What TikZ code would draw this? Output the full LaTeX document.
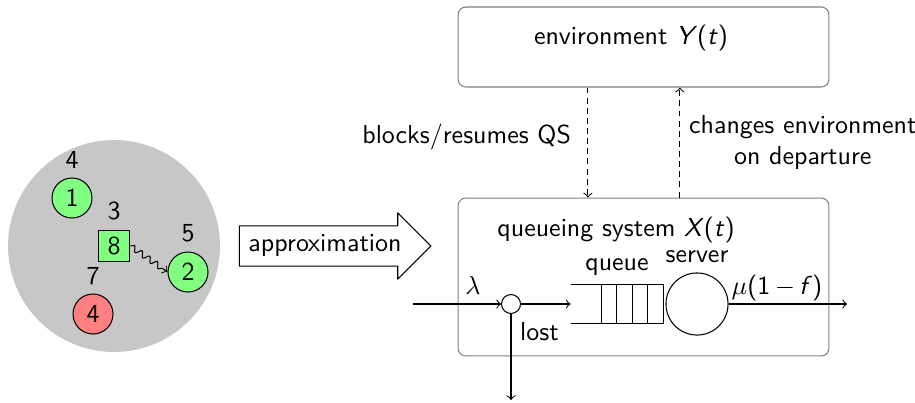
\documentclass[tikz,border=0pt]{standalone}
\usetikzlibrary{shapes.arrows,decorations.pathmorphing}
\renewcommand{\familydefault}{\sfdefault}
\newcommand{\ivar}[1]{\textsl{#1}}
\begin{document}
\begin{tikzpicture}[x=0.385pt,y=-0.385pt,>=to,line join=round,
	job/.style={circle,draw,minimum size=15.4pt,inner sep=0pt},
	sysbox/.style={draw=gray,rounded corners=3pt,minimum width=142.8pt},
	signal/.style={->,dash pattern=on 2.3pt off 1.6pt}]
	\useasboundingbox (0,0) rectangle (915,402);
	% left: pool of jobs
	\node[circle,fill=black!22,minimum size=81.6pt] (pool) at (114,246) {};
	\node[job,fill=green!50,label={above:4}] (j1) at (72,198) {1};
	\node[job,fill=green!50,label={above:5}] (j2) at (188,272) {2};
	\node[job,fill=red!50,label={above:7}] (j4) at (93,314) {4};
	\node[draw,fill=green!50,minimum size=12.3pt,inner sep=0pt,label={above:3}] (srv) at (114,246) {8};
	\draw[->,decorate,decoration={snake,amplitude=1.1pt,segment length=3.6pt,post length=2pt}]
		(srv.east) -- (j2.west);
	% approximation
	\node[single arrow,draw,single arrow head extend=5pt] (approx) at (325,246) {approximation};
	% environment and queueing system
	\node[sysbox,minimum height=30.8pt] (env) at (643.5,47) {};
	\node (envlabel) at (631,38) {environment \ivar{Y}(\ivar{t})};
	\node[sysbox,minimum height=60.8pt] (qs) at (643.5,277) {};
	\node (qslabel) at (616,230) {queueing system \ivar{X}(\ivar{t})};
	\draw[signal] ([xshift=-21.4pt]env.south) -- ([xshift=-21.4pt]qs.north)
		node[midway,left,xshift=-3pt,yshift=2pt] {blocks/resumes QS};
	\draw[signal] ([xshift=14pt]qs.north) -- ([xshift=14pt]env.south)
		node[midway,right,align=center] {changes environment\\on departure};
	% queue
	\coordinate (in) at (413,304);
	\coordinate (out) at (847,304);
	\coordinate (drop) at (511,400);
	\node[circle,draw,minimum size=7.3pt,inner sep=0pt] (split) at (511,304) {};
	\node[minimum width=35.4pt,minimum height=14.6pt,inner sep=0pt,label={above:queue}] (queue) at (617,304) {};
	\node[circle,draw,minimum size=23.9pt,inner sep=0pt,label={above:server}] (server) at (697,304) {};
	\draw (queue.north west) -- (queue.north east) -- (queue.south east) -- (queue.south west);
	\foreach \i in {0,1,2,3}
		\draw ([xshift=11.9pt+\i*5.9pt]queue.north west) -- ([xshift=11.9pt+\i*5.9pt]queue.south west);
	\draw[->] (in) -- (split) node[pos=.68,above] {$\lambda$};
	\draw[->] (split) -- (queue.west);
	\draw[->] (split) -- (drop) node[pos=.2,right] {lost};
	\draw[->] (server.east) -- (out)
		node[pos=0,anchor=south west,inner sep=1pt] {$\mu$(1\,$-$\,\ivar{f})};
\end{tikzpicture}
\end{document}
